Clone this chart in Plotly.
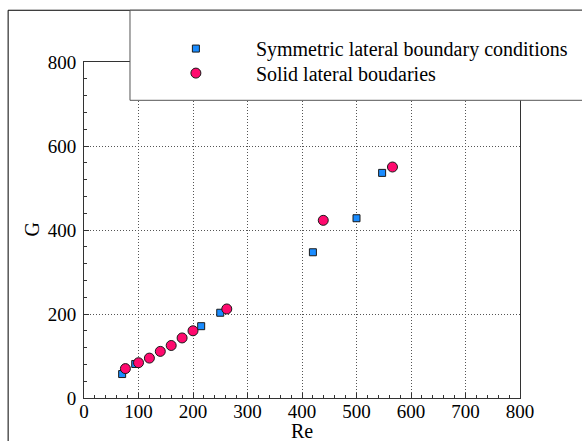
import plotly.graph_objects as go

# Symmetric lateral boundary conditions
re_sym = [70, 94, 215, 250, 420, 500, 547]
g_sym = [57, 81, 171, 203, 347, 428, 536]

# Solid lateral boundaries
re_solid = [76, 100, 120, 140, 160, 180, 200, 262, 439, 566]
g_solid = [70, 84, 95, 111, 125, 143, 160, 212, 423, 550]

x_ticks = [0, 100, 200, 300, 400, 500, 600, 700, 800]
y_ticks = [0, 200, 400, 600, 800]

FONT = "Times New Roman, Liberation Serif, serif"

fig = go.Figure()
fig.add_trace(go.Scatter(
    x=re_sym, y=g_sym, mode="markers",
    name="Symmetric lateral boundary conditions",
    legend="legend",
    marker=dict(symbol="square", size=7, color="#1a8cff",
                line=dict(color="#1a1a1a", width=1)),
))
fig.add_trace(go.Scatter(
    x=re_solid, y=g_solid, mode="markers",
    name="Solid lateral boudaries",
    legend="legend2",
    marker=dict(symbol="circle", size=10, color="#ff0a6e",
                line=dict(color="#1a1a1a", width=1)),
))

axis_common = dict(
    showline=True, linecolor="#333333", linewidth=1, mirror=True,
    showgrid=True, gridcolor="#555555", griddash="1px,2px", gridwidth=1,
    ticks="inside", ticklen=5, tickcolor="#333333",
    tickfont=dict(family=FONT, size=19, color="black"),
    zeroline=False, automargin=False,
)

fig.update_xaxes(
    range=[0, 800], tickvals=x_ticks, ticktext=[str(v) for v in x_ticks],
    minor=dict(dtick=20, ticks="inside", ticklen=3, tickcolor="#333333", showgrid=False),
    ticklabelstandoff=-4,
    **axis_common,
)
fig.update_yaxes(
    range=[0, 800], tickvals=y_ticks, ticktext=[str(v) for v in y_ticks],
    minor=dict(dtick=40, ticks="inside", ticklen=3, tickcolor="#333333", showgrid=False),
    ticklabelstandoff=3,
    **axis_common,
)

# axis titles
fig.add_annotation(text="Re", xref="paper", yref="paper", x=0.5, y=-0.097,
                   xanchor="center", yanchor="middle", showarrow=False,
                   font=dict(family=FONT, size=20, color="black"))
fig.add_annotation(text="G", xref="paper", yref="paper", x=-0.1204, y=0.5,
                   xanchor="center", yanchor="middle", showarrow=False, textangle=-90,
                   font=dict(family=FONT, size=20, color="black"))

# outer frame and legend box
fig.add_shape(type="rect", xref="paper", yref="paper",
              x0=-0.174, x1=1.5, y0=-1.0, y1=1.154,
              line=dict(color="black", width=1), fillcolor="rgba(0,0,0,0)", layer="above")
fig.add_shape(type="rect", xref="paper", yref="paper",
              x0=0.1055, x1=1.5, y0=0.886, y1=1.154,
              line=dict(color="#555555", width=1), fillcolor="white", layer="above")

legend_common = dict(
    x=0.119, xanchor="left", yanchor="top",
    bgcolor="rgba(0,0,0,0)", borderwidth=0, itemwidth=110,
    font=dict(family=FONT, size=20, color="black"),
)

fig.update_layout(
    width=582, height=441,
    margin=dict(l=84, r=62, t=62, b=43, autoexpand=False),
    paper_bgcolor="white", plot_bgcolor="white",
    font=dict(family=FONT, size=20, color="black"),
    legend=dict(y=1.098, **legend_common),
    legend2=dict(y=1.025, **legend_common),
    showlegend=True,
)

fig.write_html("out.html")
